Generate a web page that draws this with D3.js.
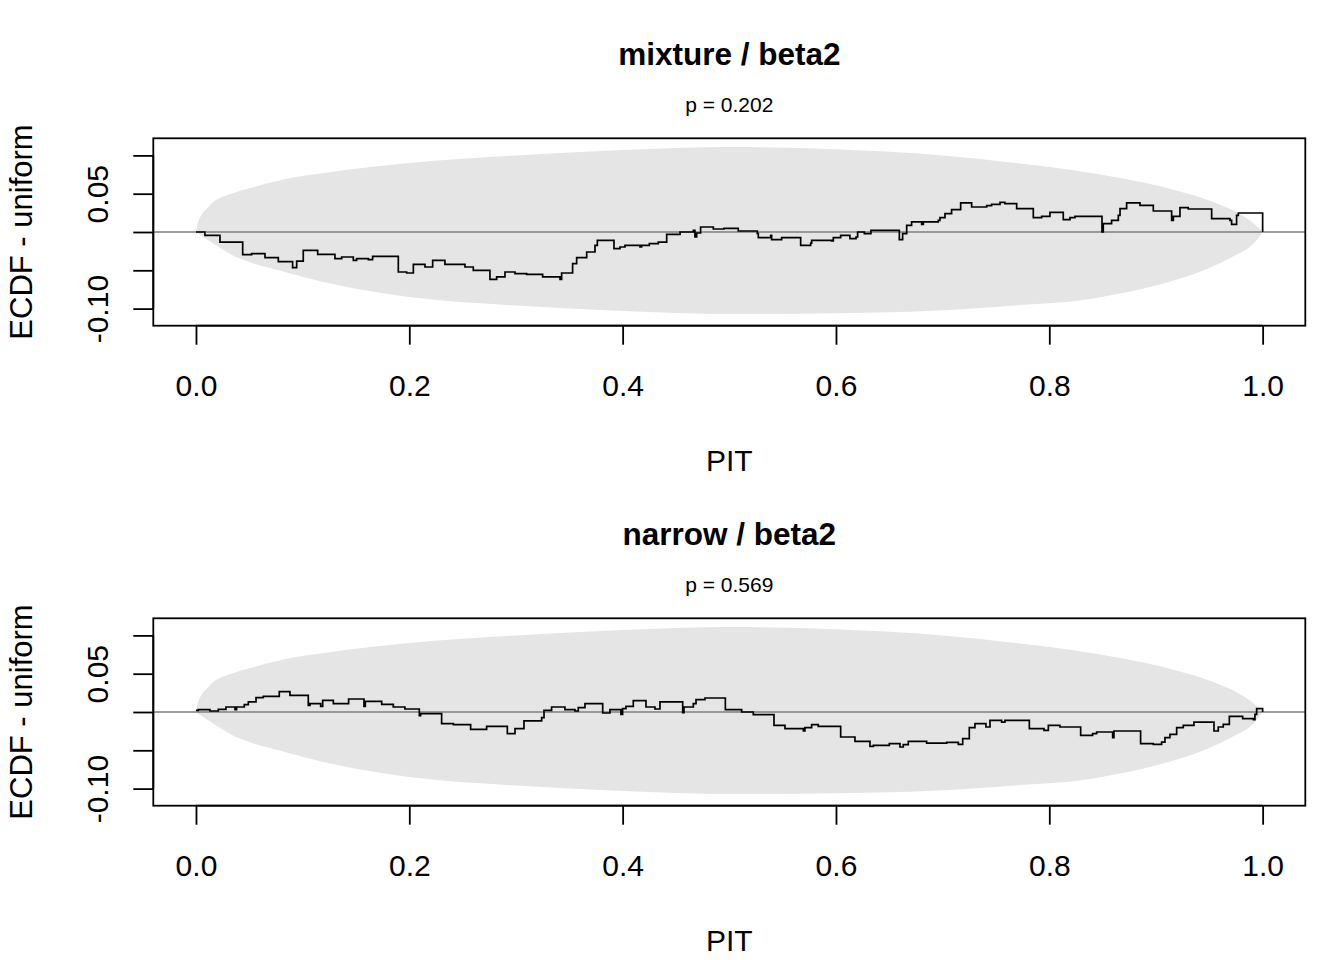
<!DOCTYPE html>
<html lang="en">
    <head>
        <meta charset="utf-8">
        <style>
        body { margin: 0; background: white; }
        text { font-family: "Liberation Sans", Arial, sans-serif; fill: black; }
        </style>
        <script src="https://d3js.org/d3.v7.min.js"></script>
    </head>
    <body>
    <script>
    // panel titles and p values
    var titles = ["mixture / beta2", "narrow / beta2"];
    var pvalues = ["p = 0.202", "p = 0.569"];

    var xTicks = [0, 0.2, 0.4, 0.6, 0.8, 1.0];
    var yTicks = [0.10, 0.05, 0, -0.05, -0.10];
    var yLabelled = [0.05, -0.10];

    // simultaneous band (ECDF - uniform)
    var bandPit   = [0, 0.002, 0.005, 0.01, 0.016, 0.025, 0.035, 0.05, 0.08, 0.125, 0.2, 0.3, 0.4, 0.5,
                     0.6, 0.7, 0.775, 0.83, 0.86, 0.89, 0.92, 0.95, 0.975, 0.988, 0.994, 0.998, 1];
    var bandUpper = [0, 0.013, 0.022, 0.030, 0.039, 0.046, 0.051, 0.057, 0.068, 0.078, 0.090, 0.100, 0.107, 0.111,
                     0.108, 0.100, 0.089, 0.079, 0.072, 0.064, 0.054, 0.041, 0.026, 0.015, 0.008, 0.003, 0];
    var bandLower = [0, -0.002, -0.005, -0.0095, -0.015, -0.023, -0.031, -0.039, -0.051, -0.067, -0.085, -0.096, -0.103, -0.107,
                     -0.106, -0.102, -0.095, -0.089, -0.082, -0.073, -0.062, -0.047, -0.030, -0.0196, -0.011, -0.004, 0];

    // mixture / beta2
    var pit1  = [0, 0.0084, 0.0225, 0.0438, 0.0522, 0.0647, 0.0772, 0.0906, 0.0944, 0.1006, 0.1141, 0.1303, 0.1366,
                 0.1475, 0.1506, 0.1616, 0.1656, 0.1897, 0.1975, 0.2038, 0.2147, 0.2219, 0.2334, 0.2522, 0.2600,
                 0.2756, 0.2819, 0.2897, 0.2991, 0.3100, 0.3250, 0.3413, 0.3428, 0.3531, 0.3569, 0.3663, 0.3741,
                 0.3763, 0.3919, 0.3975, 0.4022, 0.4163, 0.4178, 0.4250, 0.4334, 0.4413, 0.4538, 0.4663, 0.4678,
                 0.4694, 0.4731, 0.4850, 0.4950, 0.5084, 0.5263, 0.5272, 0.5388, 0.5397, 0.5491, 0.5669, 0.5763,
                 0.5772, 0.5959, 0.5975, 0.6044, 0.6131, 0.6188, 0.6203, 0.6266, 0.6328, 0.6506, 0.6594, 0.6625,
                 0.6663, 0.6709, 0.6803, 0.6819, 0.6959, 0.6975, 0.7022, 0.7084, 0.7169, 0.7272, 0.7413, 0.7459,
                 0.7538, 0.7584, 0.7694, 0.7850, 0.7928, 0.8006, 0.8131, 0.8194, 0.8241, 0.8494, 0.8506, 0.8584,
                 0.8647, 0.8663, 0.8725, 0.8850, 0.8975, 0.9147, 0.9163, 0.9225, 0.9303, 0.9522, 0.9694, 0.9709,
                 0.9756, 0.9772, 1.0];
    var ecdf1 = [0, -0.0044, -0.0131, -0.0296, -0.0283, -0.0335, -0.0387, -0.0466, -0.0379, -0.0239, -0.0292, -0.0348, -0.0326,
                 -0.0370, -0.0348, -0.0361, -0.0318, -0.0522, -0.0535, -0.0422, -0.0457, -0.0370, -0.0422, -0.0457, -0.0500,
                 -0.0618, -0.0587, -0.0522, -0.0544, -0.0553, -0.0587, -0.0618, -0.0535, -0.0413, -0.0335, -0.0261, -0.0174,
                 -0.0109, -0.0218, -0.0196, -0.0174, -0.0196, -0.0174, -0.0152, -0.0131, -0.0030, 0, 0.0022, -0.0065,
                 -0.0013, 0.0065, 0.0039, 0.0048, 0.0013, -0.0022, -0.0074, -0.0044, -0.0100, -0.0074, -0.0174, -0.0144,
                 -0.0109, -0.0117, -0.0074, -0.0044, -0.0087, -0.0065, 0, -0.0022, 0.0022, 0.0022, -0.0100, -0.0022,
                 0.0087, 0.0131, 0.0100, 0.0131, 0.0152, 0.0187, 0.0239, 0.0292, 0.0379, 0.0326, 0.0344, 0.0361,
                 0.0387, 0.0370, 0.0305, 0.0187, 0.0205, 0.0257, 0.0161, 0.0187, 0.0205, 0, 0.0109, 0.0152,
                 0.0218, 0.0305, 0.0379, 0.0348, 0.0274, 0.0152, 0.0205, 0.0318, 0.0300, 0.0174, 0.0152, 0.0100,
                 0.0218, 0.0248, 0];

    // narrow / beta2
    var pit2  = [0, 0.0022, 0.0131, 0.0209, 0.0281, 0.0366, 0.0381, 0.0453, 0.0491, 0.0563, 0.0631, 0.0781, 0.0881,
                 0.1053, 0.1069, 0.1169, 0.1188, 0.1288, 0.1431, 0.1575, 0.1588, 0.1741, 0.1850, 0.1959, 0.2094,
                 0.2106, 0.2303, 0.2413, 0.2575, 0.2725, 0.2919, 0.2991, 0.3075, 0.3241, 0.3263, 0.3334, 0.3459,
                 0.3553, 0.3584, 0.3647, 0.3813, 0.3881, 0.3984, 0.4000, 0.4031, 0.4100, 0.4219, 0.4303, 0.4350,
                 0.4563, 0.4575, 0.4663, 0.4688, 0.4772, 0.4963, 0.5116, 0.5225, 0.5419, 0.5522, 0.5694, 0.5709,
                 0.5772, 0.5834, 0.6044, 0.6178, 0.6319, 0.6350, 0.6500, 0.6600, 0.6631, 0.6678, 0.6850, 0.7038,
                 0.7147, 0.7188, 0.7250, 0.7303, 0.7406, 0.7444, 0.7553, 0.7584, 0.7813, 0.7950, 0.7991, 0.8100,
                 0.8294, 0.8406, 0.8444, 0.8594, 0.8606, 0.8856, 0.8975, 0.9053, 0.9084, 0.9131, 0.9194, 0.9256,
                 0.9356, 0.9544, 0.9584, 0.9631, 0.9688, 0.9813, 0.9913, 0.9928, 0.9944, 1.0];
    var ecdf2 = [0.0022, 0.0030, 0.0013, 0.0035, 0.0065, 0.0030, 0.0065, 0.0096, 0.0131, 0.0187, 0.0205, 0.0265, 0.0218,
                 0.0087, 0.0109, 0.0074, 0.0152, 0.0109, 0.0170, 0.0074, 0.0139, 0.0100, 0.0065, 0.0039, -0.0048,
                 -0.0022, -0.0152, -0.0165, -0.0226, -0.0187, -0.0283, -0.0218, -0.0117, -0.0074, 0.0022, 0.0065, 0.0030,
                 0.0013, 0.0057, 0.0109, -0.0013, 0.0030, -0.0030, 0.0044, 0.0074, 0.0148, 0.0065, 0.0039, 0.0131,
                 -0.0009, 0.0065, 0.0109, 0.0161, 0.0183, 0.0030, 0, -0.0035, -0.0174, -0.0218, -0.0248, -0.0205,
                 -0.0165, -0.0187, -0.0326, -0.0383, -0.0448, -0.0435, -0.0413, -0.0457, -0.0426, -0.0383, -0.0405, -0.0396,
                 -0.0422, -0.0348, -0.0205, -0.0152, -0.0196, -0.0109, -0.0131, -0.0109, -0.0218, -0.0239, -0.0174, -0.0196,
                 -0.0305, -0.0283, -0.0261, -0.0335, -0.0248, -0.0413, -0.0422, -0.0392, -0.0335, -0.0292, -0.0205, -0.0174,
                 -0.0131, -0.0248, -0.0196, -0.0161, -0.0057, -0.0087, -0.0100, -0.0030, 0.0044, 0];

    var panels = [
        {title: titles[0], p: pvalues[0], pit: pit1, ecdf: ecdf1},
        {title: titles[1], p: pvalues[1], pit: pit2, ecdf: ecdf2}
    ];

    var width = 1344,
        height = 960;

    var svg = d3.select("body").append("svg")
        .attr("width", width)
        .attr("height", height);

    // plot region (R style, 4% padding on x)
    var x = d3.scaleLinear()
        .domain([-0.04, 1.04])
        .range([153.3, 1305.3]);

    var y = d3.scaleLinear()
        .domain([-0.1223, 0.1223])
        .range([325.7, 138.3]);

    var band = d3.range(bandPit.length).map(function(i) {
        return {pit: bandPit[i], lo: bandLower[i], hi: bandUpper[i]};
    });

    var area = d3.area()
        .x(function(d) { return x(d.pit); })
        .y0(function(d) { return y(d.lo); })
        .y1(function(d) { return y(d.hi); })
        .curve(d3.curveMonotoneX);

    var step = d3.line()
        .x(function(d) { return x(d[0]); })
        .y(function(d) { return y(d[1]); })
        .curve(d3.curveStepAfter);

    // R prints a plain hyphen for negatives
    var fmt = function(d) { return d3.format(".2f")(d).replace("\u2212", "-"); };

    panels.forEach(function(p, k) {
        var g = svg.append("g")
            .attr("transform", "translate(0," + (k * 480) + ")");

        g.append("text")
            .attr("x", 729.3)
            .attr("y", 65)
            .attr("text-anchor", "middle")
            .attr("font-weight", "bold")
            .style("font-size", "31.5px")
            .text(p.title);

        g.append("text")
            .attr("x", 729.3)
            .attr("y", 112)
            .attr("text-anchor", "middle")
            .style("font-size", "21px")
            .text(p.p);

        g.append("path")
            .datum(band)
            .attr("d", area)
            .attr("fill", "#e5e5e5")
            .attr("stroke", "none");

        g.append("line")
            .attr("x1", x.range()[0])
            .attr("x2", x.range()[1])
            .attr("y1", y(0))
            .attr("y2", y(0))
            .attr("stroke", "#7f7f7f")
            .attr("stroke-width", 1.7);

        g.append("path")
            .datum(d3.zip(p.pit, p.ecdf))
            .attr("d", step)
            .attr("fill", "none")
            .attr("stroke", "black")
            .attr("stroke-width", 1.7);

        // box
        g.append("rect")
            .attr("x", x.range()[0])
            .attr("y", y.range()[1])
            .attr("width", x.range()[1] - x.range()[0])
            .attr("height", y.range()[0] - y.range()[1])
            .attr("fill", "none")
            .attr("stroke", "black")
            .attr("stroke-width", 1.8);

        // x axis
        var xa = g.append("g")
            .attr("transform", "translate(0," + y.range()[0] + ")")
            .call(d3.axisBottom(x).tickValues(xTicks).tickSize(19).tickPadding(0)
                .tickFormat(d3.format(".1f")));
        xa.select(".domain")
            .attr("d", "M" + x(0) + ",0H" + x(1))
            .attr("stroke-width", 1.8);
        xa.selectAll(".tick line").attr("stroke-width", 1.8);
        xa.selectAll(".tick text")
            .attr("y", 70)
            .attr("dy", null)
            .style("font-size", "30px")
            .attr("font-family", null);

        // y axis
        var ya = g.append("g")
            .attr("transform", "translate(" + x.range()[0] + ",0)")
            .call(d3.axisLeft(y).tickValues(yTicks).tickSize(20)
                .tickFormat(function(d) { return yLabelled.indexOf(d) >= 0 ? fmt(d) : ""; }));
        ya.select(".domain")
            .attr("d", "M0," + y(0.10) + "V" + y(-0.10))
            .attr("stroke-width", 1.8);
        ya.selectAll(".tick line").attr("stroke-width", 1.8);
        ya.selectAll(".tick text")
            .attr("x", null)
            .attr("dy", null)
            .attr("transform", "translate(-45.3,0) rotate(-90)")
            .attr("text-anchor", "middle")
            .style("font-size", "30px")
            .attr("font-family", null);

        g.append("text")
            .attr("x", 729.3)
            .attr("y", 470.7)
            .attr("text-anchor", "middle")
            .style("font-size", "30px")
            .text("PIT");

        g.append("text")
            .attr("transform", "translate(31.7," + y(0) + ") rotate(-90)")
            .attr("text-anchor", "middle")
            .style("font-size", "31px")
            .text("ECDF - uniform");
    });

    </script>
    </body>
</html>
